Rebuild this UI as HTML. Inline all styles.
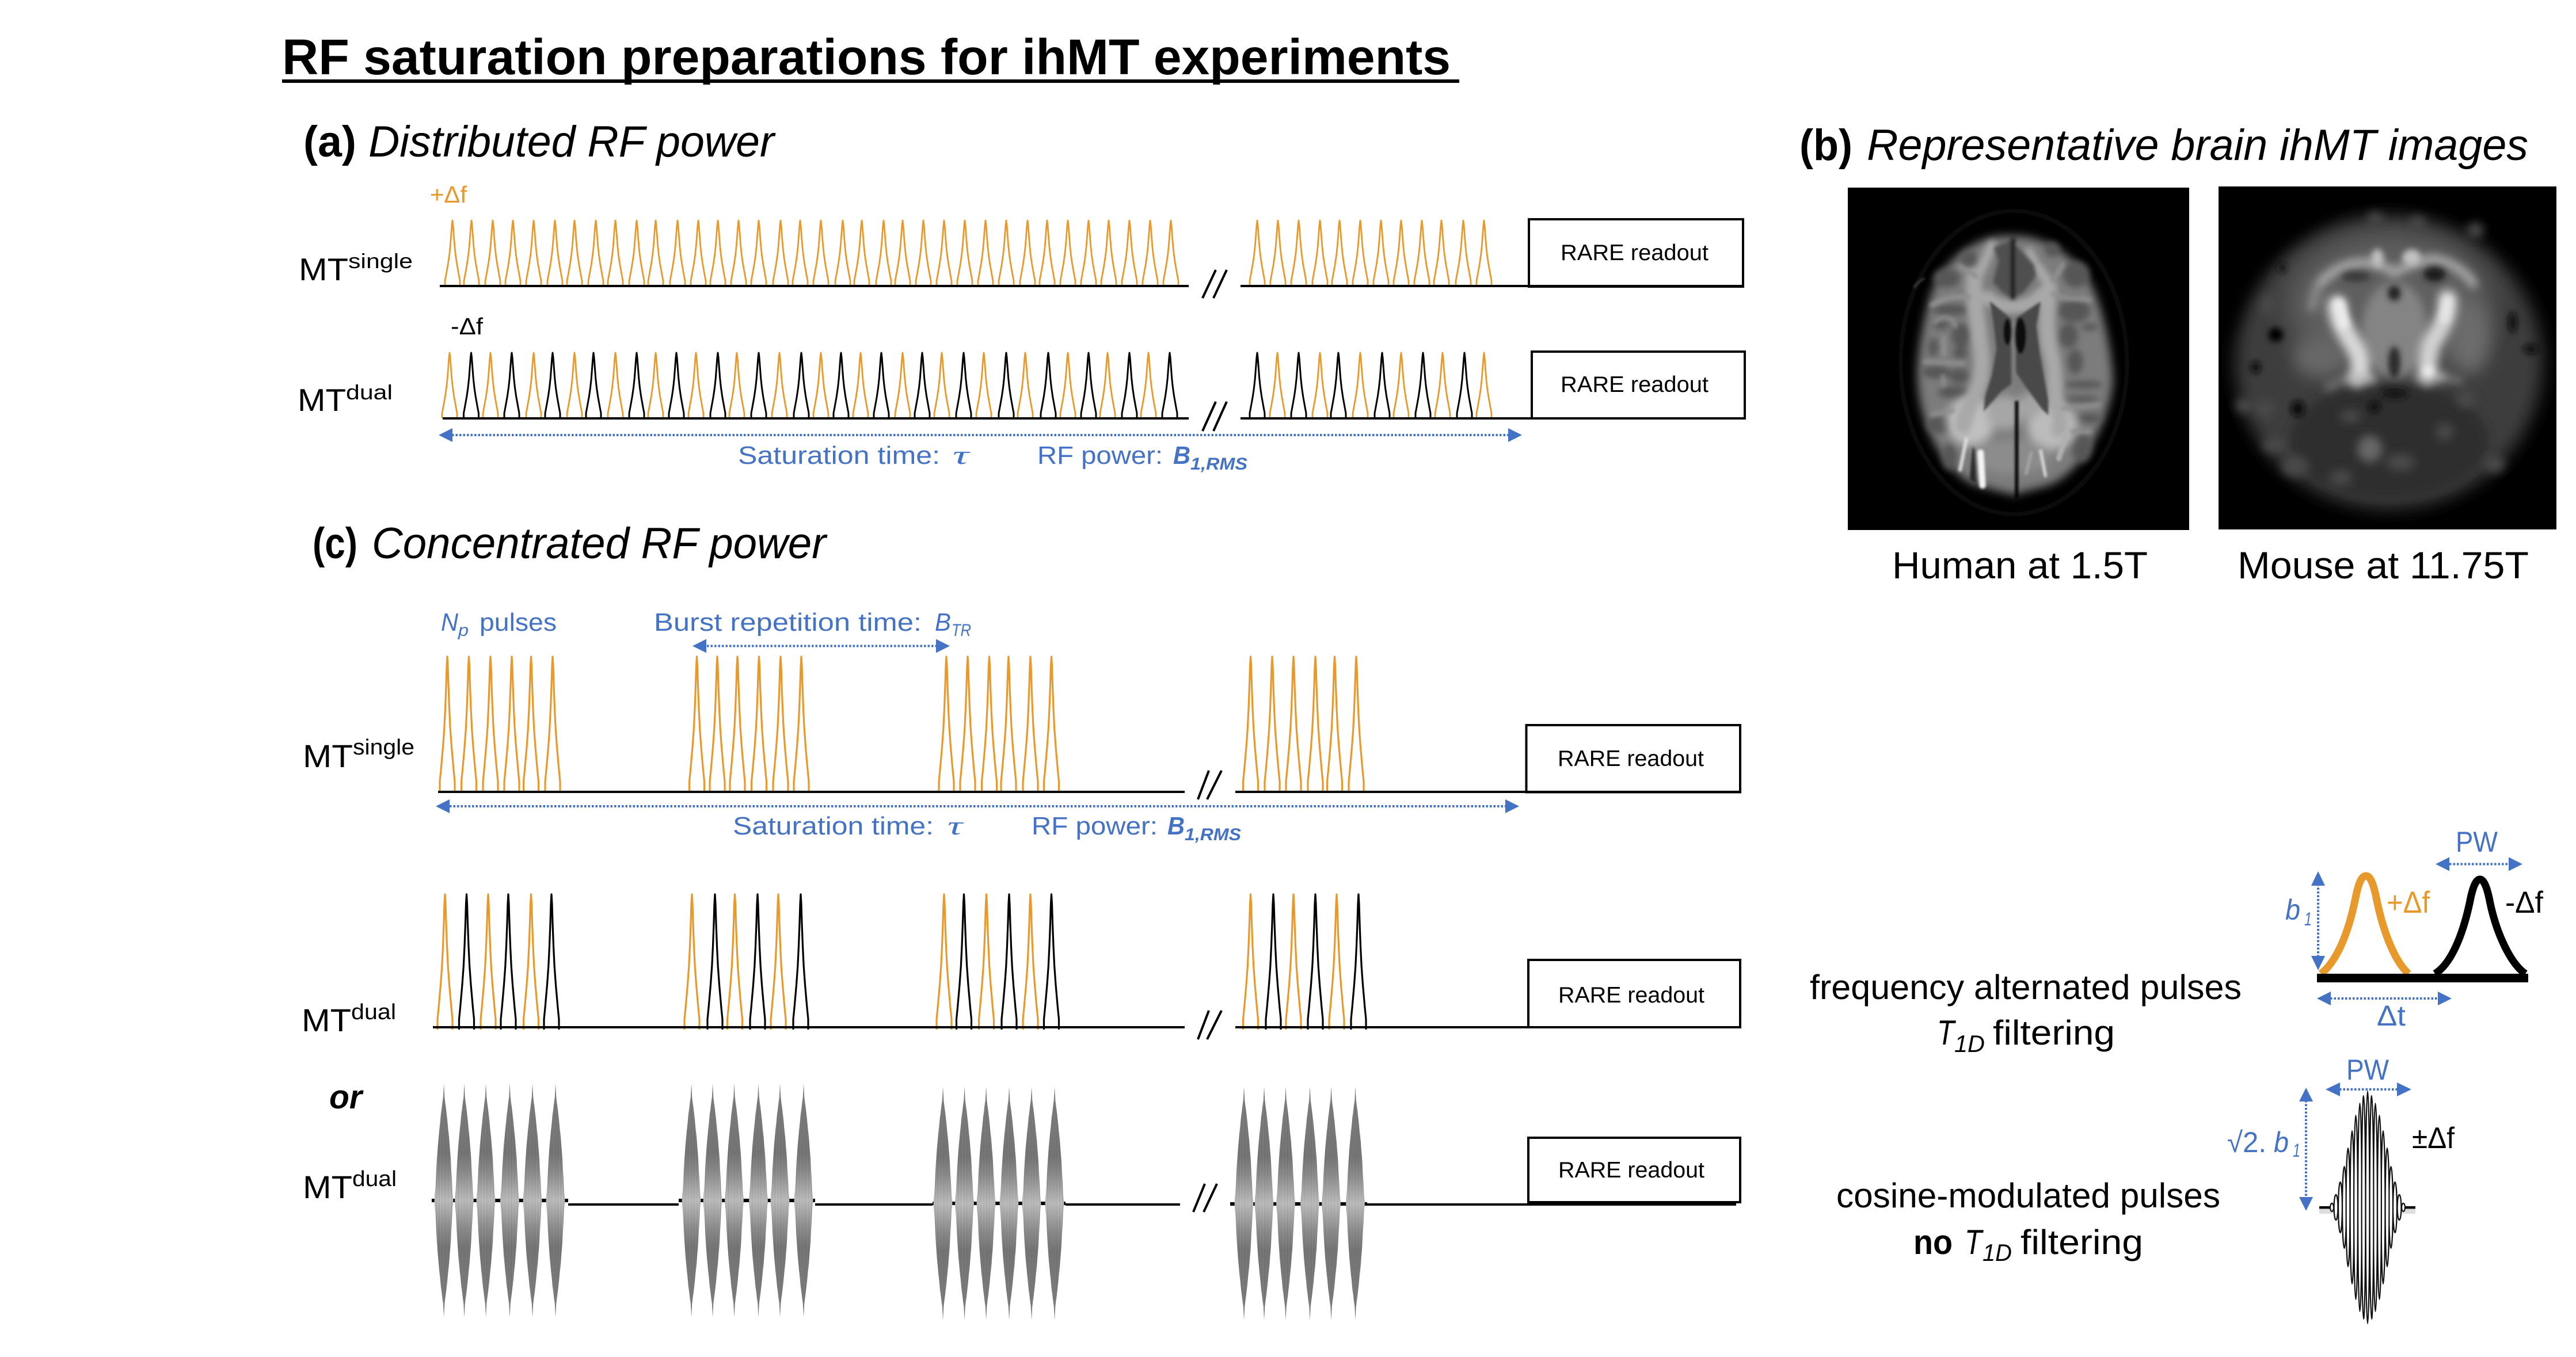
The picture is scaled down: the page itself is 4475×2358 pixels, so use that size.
<!DOCTYPE html>
<html><head><meta charset="utf-8"><title>RF saturation preparations for ihMT experiments</title>
<style>
html,body{margin:0;padding:0;background:#fff}
svg{display:block}
text{font-family:"Liberation Sans","DejaVu Sans",sans-serif;fill:#000}
.b{fill:#4472C4}
.o{fill:#E8992B}
.i{font-style:italic}
.bd{font-weight:bold}
</style></head><body>
<svg xmlns="http://www.w3.org/2000/svg" width="4475" height="2358" viewBox="0 0 4475 2358">
<defs>
<path id="p" d="M-13 0L-13-9L-11.3-18L-7.7-38L-5.4-54L-3.7-70L-2.2-90L-1-106L0-114L1-106L2.2-90L3.7-70L5.4-54L7.7-38L11.3-18L13-9L13 0"/>
<path id="q" d="M-13 0L-13-18L-11-38L-7.5-78L-5.2-110L-3.5-145L-2-185L-1-218L0-235L1-218L2-185L3.5-145L5.2-110L7.5-78L11-38L13-18L13 0"/>
<linearGradient id="g" x1="0" y1="0" x2="0" y2="1">
<stop offset="0" stop-color="#8a8a8a"/><stop offset=".3" stop-color="#808080"/><stop offset=".38" stop-color="#989898"/><stop offset=".5" stop-color="#cccccc"/><stop offset=".62" stop-color="#989898"/><stop offset=".7" stop-color="#808080"/><stop offset="1" stop-color="#8a8a8a"/>
</linearGradient>
<pattern id="st" width="2.6" height="10" patternUnits="userSpaceOnUse"><rect width="1" height="10" fill="#000" opacity=".25"/></pattern>
<polygon id="env" points="0,-203 1.2,-180 5,-150 9.5,-105 12,-72 13.5,-43 15,-17 16.5,0 15,17 13.5,43 12,72 9.5,105 5,150 1.2,180 0,203 -1.2,180 -5,150 -9.5,105 -12,72 -13.5,43 -15,17 -16.5,0 -15,-17 -13.5,-43 -12,-72 -9.5,-105 -5,-150 -1.2,-180"/>
<g id="c"><use href="#env" fill="url(#g)"/><use href="#env" fill="url(#st)"/></g>
<filter id="f5" filterUnits="userSpaceOnUse" x="-500" y="-500" width="3000" height="3000"><feGaussianBlur stdDeviation="6"/></filter>
<filter id="f9" filterUnits="userSpaceOnUse" x="-500" y="-500" width="3000" height="3000"><feGaussianBlur stdDeviation="10"/></filter>
<filter id="f14" filterUnits="userSpaceOnUse" x="-500" y="-500" width="3000" height="3000"><feGaussianBlur stdDeviation="16"/></filter>
<filter id="f22" filterUnits="userSpaceOnUse" x="-500" y="-500" width="3000" height="3000"><feGaussianBlur stdDeviation="24"/></filter>
<filter id="f45" filterUnits="userSpaceOnUse" x="-500" y="-500" width="3000" height="3000"><feGaussianBlur stdDeviation="45"/></filter>
<filter id="f70" filterUnits="userSpaceOnUse" x="-500" y="-500" width="3000" height="3000"><feGaussianBlur stdDeviation="70"/></filter>
<clipPath id="ch"><rect x="30" y="18" width="1779" height="1785"/></clipPath>
<clipPath id="cm"><rect x="12" y="12" width="1761" height="1788"/></clipPath>
</defs>
<rect width="4475" height="2358" fill="#fff"/>

<!-- Title -->
<text class="bd" x="490" y="129" font-size="87" textLength="2030" lengthAdjust="spacingAndGlyphs">RF saturation preparations for ihMT experiments</text>
<rect x="490" y="138" width="2045" height="6" fill="#000"/>

<!-- Headings -->
<text class="bd" x="527" y="272" font-size="76" textLength="92" lengthAdjust="spacingAndGlyphs">(a)</text>
<text class="i" x="640" y="272" font-size="76" textLength="705" lengthAdjust="spacingAndGlyphs">Distributed RF power</text>
<text class="bd" x="3126" y="278" font-size="76" textLength="92" lengthAdjust="spacingAndGlyphs">(b)</text>
<text class="i" x="3243" y="278" font-size="76" textLength="1149" lengthAdjust="spacingAndGlyphs">Representative brain ihMT images</text>
<text class="bd" x="543" y="970" font-size="76" textLength="78" lengthAdjust="spacingAndGlyphs">(c)</text>
<text class="i" x="646" y="970" font-size="76" textLength="789" lengthAdjust="spacingAndGlyphs">Concentrated RF power</text>

<!-- (a) row labels -->
<text class="o" x="747" y="352" font-size="41" textLength="64" lengthAdjust="spacingAndGlyphs">+Δf</text>
<text x="783" y="581" font-size="41" textLength="56" lengthAdjust="spacingAndGlyphs">-Δf</text>
<text x="519" y="487" font-size="55" textLength="86" lengthAdjust="spacingAndGlyphs">MT</text>
<text x="605" y="466" font-size="36" textLength="112" lengthAdjust="spacingAndGlyphs">single</text>
<text x="517" y="714" font-size="55" textLength="84" lengthAdjust="spacingAndGlyphs">MT</text>
<text x="601" y="694" font-size="36" textLength="81" lengthAdjust="spacingAndGlyphs">dual</text>

<!-- Row 1 pulses -->
<g fill="none" stroke="#E8992B" stroke-width="2.8" stroke-linejoin="round">
<g transform="translate(0 497)">
<use href="#p" x="786"/><use href="#p" x="819"/><use href="#p" x="856"/><use href="#p" x="891"/><use href="#p" x="927"/><use href="#p" x="964"/><use href="#p" x="998"/><use href="#p" x="1035"/><use href="#p" x="1069"/><use href="#p" x="1106"/><use href="#p" x="1139"/><use href="#p" x="1177"/><use href="#p" x="1213"/><use href="#p" x="1247"/><use href="#p" x="1283"/><use href="#p" x="1318"/><use href="#p" x="1356"/><use href="#p" x="1390"/><use href="#p" x="1426"/><use href="#p" x="1464"/><use href="#p" x="1497"/><use href="#p" x="1535"/><use href="#p" x="1568"/><use href="#p" x="1604"/><use href="#p" x="1640"/><use href="#p" x="1676"/><use href="#p" x="1712"/><use href="#p" x="1748"/><use href="#p" x="1785"/><use href="#p" x="1819"/><use href="#p" x="1855"/><use href="#p" x="1891"/><use href="#p" x="1926"/><use href="#p" x="1962"/><use href="#p" x="1998"/><use href="#p" x="2034"/>
<use href="#p" x="2184"/><use href="#p" x="2220"/><use href="#p" x="2256"/><use href="#p" x="2293"/><use href="#p" x="2327"/><use href="#p" x="2363"/><use href="#p" x="2399"/><use href="#p" x="2434"/><use href="#p" x="2470"/><use href="#p" x="2504"/><use href="#p" x="2542"/><use href="#p" x="2578"/>
</g>
<!-- Row 2 orange -->
<g transform="translate(0 727)">
<use href="#p" x="781"/><use href="#p" x="852"/><use href="#p" x="927"/><use href="#p" x="998"/><use href="#p" x="1069"/><use href="#p" x="1139"/><use href="#p" x="1209"/><use href="#p" x="1280"/><use href="#p" x="1354"/><use href="#p" x="1426"/><use href="#p" x="1495"/><use href="#p" x="1568"/><use href="#p" x="1636"/><use href="#p" x="1709"/><use href="#p" x="1781"/><use href="#p" x="1855"/><use href="#p" x="1924"/><use href="#p" x="1995"/>
<use href="#p" x="2219"/><use href="#p" x="2293"/><use href="#p" x="2363"/><use href="#p" x="2434"/><use href="#p" x="2506"/><use href="#p" x="2578"/>
</g>
<!-- Row 3 -->
<g transform="translate(0 1376)" stroke-width="3.2">
<use href="#q" x="777"/><use href="#q" x="814.5"/><use href="#q" x="852"/><use href="#q" x="889"/><use href="#q" x="922.5"/><use href="#q" x="960"/>
<use href="#q" x="1210.5"/><use href="#q" x="1246"/><use href="#q" x="1281"/><use href="#q" x="1318.5"/><use href="#q" x="1356"/><use href="#q" x="1392"/>
<use href="#q" x="1644"/><use href="#q" x="1681"/><use href="#q" x="1718.5"/><use href="#q" x="1752"/><use href="#q" x="1790"/><use href="#q" x="1826.5"/>
<use href="#q" x="2172.5"/><use href="#q" x="2210"/><use href="#q" x="2247"/><use href="#q" x="2285"/><use href="#q" x="2318.5"/><use href="#q" x="2356"/>
</g>
<!-- Row 4 orange -->
<g transform="translate(0 1789)" stroke-width="3.2">
<use href="#q" x="773"/><use href="#q" x="848"/><use href="#q" x="922.5"/>
<use href="#q" x="1202"/><use href="#q" x="1276.5"/><use href="#q" x="1352"/>
<use href="#q" x="1640"/><use href="#q" x="1713.5"/><use href="#q" x="1790"/>
<use href="#q" x="2172.5"/><use href="#q" x="2247"/><use href="#q" x="2322"/>
</g>
</g>
<g fill="none" stroke="#000" stroke-width="3" stroke-linejoin="round">
<g transform="translate(0 727)">
<use href="#p" x="818.5"/><use href="#p" x="889"/><use href="#p" x="960"/><use href="#p" x="1031"/><use href="#p" x="1106"/><use href="#p" x="1175"/><use href="#p" x="1247"/><use href="#p" x="1318"/><use href="#p" x="1392"/><use href="#p" x="1461"/><use href="#p" x="1531"/><use href="#p" x="1602"/><use href="#p" x="1674"/><use href="#p" x="1748"/><use href="#p" x="1821"/><use href="#p" x="1891"/><use href="#p" x="1962"/><use href="#p" x="2032"/>
<use href="#p" x="2184"/><use href="#p" x="2256"/><use href="#p" x="2325"/><use href="#p" x="2401"/><use href="#p" x="2472"/><use href="#p" x="2544"/>
</g>
<g transform="translate(0 1789)" stroke-width="3.2">
<use href="#q" x="810.5"/><use href="#q" x="883"/><use href="#q" x="958"/>
<use href="#q" x="1242"/><use href="#q" x="1316"/><use href="#q" x="1391"/>
<use href="#q" x="1674.5"/><use href="#q" x="1753"/><use href="#q" x="1826.5"/>
<use href="#q" x="2212"/><use href="#q" x="2285"/><use href="#q" x="2360"/>
</g>
</g>

<!-- Baselines -->
<g fill="#000">
<rect x="764" y="495" width="1301" height="4"/><rect x="2155" y="495" width="873" height="4"/>
<rect x="769" y="725" width="1296" height="4"/><rect x="2155" y="725" width="878" height="4"/>
<rect x="761" y="1374" width="1297" height="4"/><rect x="2146" y="1374" width="877" height="4"/>
<rect x="752" y="1783" width="1306" height="4"/><rect x="2146" y="1783" width="877" height="4"/>
<rect x="987" y="2091" width="192" height="4"/><rect x="1416" y="2091" width="204" height="4"/><rect x="1851" y="2091" width="199" height="4"/><rect x="2374" y="2091" width="642" height="4"/>
<rect x="750" y="2083" width="237" height="6"/><rect x="1179" y="2083" width="237" height="6"/><rect x="1620" y="2088" width="231" height="6"/><rect x="2137" y="2089" width="238" height="6"/>
</g>

<!-- Cos pulses row -->
<g transform="translate(0 2086)">
<use href="#c" x="771"/><use href="#c" x="806.5"/><use href="#c" x="844"/><use href="#c" x="885.5"/><use href="#c" x="925"/><use href="#c" x="965"/>
<use href="#c" x="1201"/><use href="#c" x="1238"/><use href="#c" x="1275.5"/><use href="#c" x="1317.5"/><use href="#c" x="1355"/><use href="#c" x="1396"/>
</g>
<g transform="translate(0 2091)">
<use href="#c" x="1638"/><use href="#c" x="1675.5"/><use href="#c" x="1713"/><use href="#c" x="1753"/><use href="#c" x="1792"/><use href="#c" x="1832"/>
<use href="#c" x="2161"/><use href="#c" x="2196"/><use href="#c" x="2233.5"/><use href="#c" x="2275.5"/><use href="#c" x="2312.5"/><use href="#c" x="2354.5"/>
</g>

<!-- Break marks -->
<g stroke="#000" stroke-width="4" fill="none">
<path d="M2089 518L2112 469M2108 518L2131 469"/>
<path d="M2089 749L2112 698M2108 749L2131 698"/>
<path d="M2081 1389L2100 1339M2097 1389L2122 1339"/>
<path d="M2081 1806L2100 1756M2097 1806L2122 1756"/>
<path d="M2073 2106L2093 2057M2091 2106L2114 2057"/>
</g>

<!-- RARE boxes -->
<g fill="none" stroke="#000" stroke-width="4">
<rect x="2656" y="381" width="372" height="117"/>
<rect x="2661" y="611" width="370" height="116"/>
<rect x="2651.5" y="1260" width="371.5" height="116.5"/>
<rect x="2655" y="1668" width="368" height="117"/>
<rect x="2655" y="1977" width="368" height="112"/>
</g>
<g font-size="39">
<text x="2711" y="452" textLength="257" lengthAdjust="spacingAndGlyphs">RARE readout</text>
<text x="2711" y="681" textLength="257" lengthAdjust="spacingAndGlyphs">RARE readout</text>
<text x="2706" y="1331" textLength="254" lengthAdjust="spacingAndGlyphs">RARE readout</text>
<text x="2707" y="1742" textLength="254" lengthAdjust="spacingAndGlyphs">RARE readout</text>
<text x="2707" y="2046" textLength="254" lengthAdjust="spacingAndGlyphs">RARE readout</text>
</g>

<!-- Blue arrows -->
<g stroke="#4472C4" stroke-width="4" stroke-dasharray="3.5 3" fill="none">
<path d="M785 756H2620"/>
<path d="M1228 1122.5H1626"/>
<path d="M781 1401H2615"/>
<path d="M4255 1501.5H4358"/>
<path d="M4027 1536V1664"/>
<path d="M4048 1735H4237"/>
<path d="M4064 1893H4165"/>
<path d="M4006 1912V2082"/>
</g>
<g fill="#4472C4">
<polygon points="762,756 786,744 786,768"/><polygon points="2644,756 2620,744 2620,768"/>
<polygon points="1203,1122.5 1227,1110.5 1227,1134.5"/><polygon points="1650,1122.5 1626,1110.5 1626,1134.5"/>
<polygon points="757,1401 781,1389 781,1413"/><polygon points="2639,1401 2615,1389 2615,1413"/>
<polygon points="4231,1501.5 4255,1489.5 4255,1513.5"/><polygon points="4382,1501.5 4358,1489.5 4358,1513.5"/>
<polygon points="4027,1514 4015,1539 4039,1539"/><polygon points="4027,1686 4015,1661 4039,1661"/>
<polygon points="4025,1735 4049,1723 4049,1747"/><polygon points="4259,1735 4235,1723 4235,1747"/>
<polygon points="4040,1893 4065,1881 4065,1905"/><polygon points="4189,1893 4164,1881 4164,1905"/>
<polygon points="4006,1890 3994,1914 4018,1914"/><polygon points="4006,2104 3994,2080 4018,2080"/>
</g>

<!-- Blue labels -->
<text class="b" x="1282" y="806" font-size="44" textLength="351" lengthAdjust="spacingAndGlyphs">Saturation time:</text>
<text class="b" x="1655" y="806" font-size="46" font-style="italic" style="font-family:'Liberation Serif',serif" textLength="28" lengthAdjust="spacingAndGlyphs">τ</text>
<text class="b" x="1802" y="806" font-size="44" textLength="218" lengthAdjust="spacingAndGlyphs">RF power:</text>
<text class="b i bd" x="2038" y="806" font-size="44" textLength="30" lengthAdjust="spacingAndGlyphs">B</text>
<text class="b i bd" x="2068" y="816" font-size="30" textLength="99" lengthAdjust="spacingAndGlyphs">1,RMS</text>

<text class="b" x="1273" y="1450" font-size="44" textLength="349" lengthAdjust="spacingAndGlyphs">Saturation time:</text>
<text class="b" x="1646" y="1450" font-size="46" font-style="italic" style="font-family:'Liberation Serif',serif" textLength="26" lengthAdjust="spacingAndGlyphs">τ</text>
<text class="b" x="1792" y="1450" font-size="44" textLength="219" lengthAdjust="spacingAndGlyphs">RF power:</text>
<text class="b i bd" x="2028" y="1450" font-size="44" textLength="30" lengthAdjust="spacingAndGlyphs">B</text>
<text class="b i bd" x="2058" y="1460" font-size="30" textLength="98" lengthAdjust="spacingAndGlyphs">1,RMS</text>

<text class="b i" x="766" y="1096" font-size="44" textLength="30" lengthAdjust="spacingAndGlyphs">N</text>
<text class="b i" x="796" y="1105" font-size="30" textLength="18" lengthAdjust="spacingAndGlyphs">p</text>
<text class="b" x="833" y="1096" font-size="44" textLength="134" lengthAdjust="spacingAndGlyphs">pulses</text>
<text class="b" x="1136" y="1096" font-size="44" textLength="465" lengthAdjust="spacingAndGlyphs">Burst repetition time:</text>
<text class="b i" x="1624" y="1096" font-size="44" textLength="28" lengthAdjust="spacingAndGlyphs">B</text>
<text class="b i" x="1653" y="1105" font-size="30" textLength="34" lengthAdjust="spacingAndGlyphs">TR</text>

<!-- (c) labels -->
<text x="526" y="1333" font-size="56" textLength="87" lengthAdjust="spacingAndGlyphs">MT</text>
<text x="613" y="1311" font-size="38" textLength="107" lengthAdjust="spacingAndGlyphs">single</text>
<text x="524" y="1792" font-size="56" textLength="86" lengthAdjust="spacingAndGlyphs">MT</text>
<text x="610" y="1771" font-size="38" textLength="78" lengthAdjust="spacingAndGlyphs">dual</text>
<text class="i bd" x="572" y="1926" font-size="58" textLength="57" lengthAdjust="spacingAndGlyphs">or</text>
<text x="526" y="2082" font-size="56" textLength="86" lengthAdjust="spacingAndGlyphs">MT</text>
<text x="612" y="2061" font-size="38" textLength="77" lengthAdjust="spacingAndGlyphs">dual</text>

<!-- Human brain -->
<g transform="translate(3200 320) scale(.33333)">
<rect x="30" y="18" width="1779" height="1785" fill="#000"/>
<g clip-path="url(#ch)">
<g filter="url(#f14)">
<ellipse cx="895" cy="930" rx="590" ry="790" fill="none" stroke="#0e0e0e" stroke-width="26"/>
</g>
<path d="M375 540C385 520 405 505 430 490" fill="none" stroke="#555" stroke-width="8" filter="url(#f5)"/>
<path filter="url(#f22)" d="M890 270C700 250 490 410 445 640C405 800 385 950 395 1050C410 1250 520 1500 700 1570L890 1620L1080 1570C1250 1500 1385 1250 1410 1050C1420 950 1370 700 1330 600C1280 420 1080 260 890 270Z" fill="#7c7c7c"/>
<g filter="url(#f14)" fill="#565656">
<ellipse cx="545" cy="490" rx="70" ry="50"/><ellipse cx="660" cy="390" rx="45" ry="45"/>
<ellipse cx="1220" cy="470" rx="70" ry="70"/><ellipse cx="1095" cy="340" rx="40" ry="40"/>
<ellipse cx="565" cy="655" rx="95" ry="30"/><ellipse cx="515" cy="735" rx="45" ry="22"/><ellipse cx="620" cy="790" rx="50" ry="65"/>
<ellipse cx="615" cy="880" rx="40" ry="30"/><ellipse cx="475" cy="850" rx="26" ry="50"/>
<ellipse cx="490" cy="980" rx="75" ry="34"/><ellipse cx="610" cy="1000" rx="50" ry="40"/><ellipse cx="580" cy="1085" rx="80" ry="32"/>
<ellipse cx="510" cy="1255" rx="70" ry="45"/>
<ellipse cx="1210" cy="660" rx="85" ry="60"/><ellipse cx="1180" cy="790" rx="50" ry="65"/><ellipse cx="1215" cy="925" rx="40" ry="65"/>
<ellipse cx="1290" cy="745" rx="45" ry="18"/><ellipse cx="1260" cy="1045" rx="100" ry="20"/><ellipse cx="1250" cy="1120" rx="90" ry="16"/>
<ellipse cx="1290" cy="1220" rx="65" ry="26"/><ellipse cx="1250" cy="1370" rx="55" ry="80"/>
<ellipse cx="560" cy="1420" rx="40" ry="70"/>
</g>
<g filter="url(#f22)">
<ellipse cx="670" cy="1235" rx="125" ry="130" fill="#c0c0c0"/>
<ellipse cx="1095" cy="1260" rx="130" ry="125" fill="#bcbcbc"/>
<ellipse cx="850" cy="1190" rx="100" ry="90" fill="#a6a6a6"/>
<ellipse cx="985" cy="1150" rx="60" ry="70" fill="#a4a4a4"/>
<ellipse cx="890" cy="1420" rx="200" ry="90" fill="#8c8c8c"/>
</g>
<g fill="none" stroke-linecap="round" filter="url(#f14)">
<g stroke="#a8a8a8">
<path d="M690 480C680 600 710 700 715 800C735 900 735 1000 700 1080C670 1150 640 1200 630 1260" stroke-width="85"/>
<path d="M1080 540C1070 650 1060 750 1080 850C1110 950 1110 1050 1110 1130C1130 1200 1150 1240 1130 1280" stroke-width="82"/>
<path d="M760 590C800 630 850 640 890 640C950 640 1000 620 1040 570" stroke-width="70"/>
<path d="M700 500L780 320" stroke-width="52"/>
<path d="M1040 480L975 350" stroke-width="44"/>
<path d="M1080 520L1025 440" stroke-width="55"/>
</g>
</g>
<g fill="none" stroke-linecap="round" filter="url(#f9)">
<g stroke="#909090">
<path d="M700 480L615 430" stroke-width="26"/>
<path d="M1100 500L1150 420" stroke-width="26"/>
<path d="M660 590C580 580 520 600 470 630" stroke-width="28"/>
<path d="M1100 570C1150 610 1250 590 1290 605" stroke-width="24"/>
<path d="M480 725C515 680 590 685 590 745" stroke-width="16"/>
<path d="M530 800L530 890" stroke-width="22"/>
<path d="M430 925L630 935" stroke-width="20"/>
<path d="M525 1000L530 1050" stroke-width="18"/>
<path d="M1150 1170L1340 1150" stroke-width="20"/>
<path d="M1200 1290L1290 1290" stroke-width="26"/>
<path d="M470 1200L580 1180" stroke-width="22"/>
</g>
</g>
<g fill="none" stroke-linecap="round" filter="url(#f5)">
<path d="M648 1330L615 1490" stroke="#dedede" stroke-width="18"/>
<path d="M722 1400L732 1570" stroke="#f4f4f4" stroke-width="34"/>
<path d="M785 1370L815 1470" stroke="#8c8c8c" stroke-width="14"/>
<path d="M1035 1390L1060 1520" stroke="#dcdcdc" stroke-width="16"/>
<path d="M985 1400L960 1510" stroke="#a8a8a8" stroke-width="14"/>
<path d="M1165 1310L1130 1430" stroke="#b0b0b0" stroke-width="28"/>
</g>
<g filter="url(#f5)">
<polygon points="680,1370 665,1540 700,1560 690,1380" fill="#2a2a2a"/>
<polygon points="770,610 885,705 882,800 885,1040 830,1080 738,1185 745,1110 780,1000 805,860 790,730" fill="#484848"/>
<polygon points="1035,612 905,700 905,980 960,1060 1040,1170 1075,1205 1075,1130 1030,880 1012,740" fill="#484848"/>
<ellipse cx="862" cy="770" rx="22" ry="70" fill="#0a0a0a"/>
<ellipse cx="930" cy="790" rx="30" ry="95" fill="#0c0c0c"/>
</g>
<g filter="url(#f9)">
<polygon points="790,330 880,290 1000,420 1010,480 950,560 890,600 830,560 785,510 815,400" fill="#505050"/>
<path d="M890 280V600" fill="none" stroke="#111" stroke-width="22"/>
<path d="M893 700V1110" fill="none" stroke="#808080" stroke-width="9"/>
</g>
<path filter="url(#f5)" d="M910 1130V1640" fill="none" stroke="#050505" stroke-width="18"/>
</g>
</g>

<!-- Mouse brain -->
<g transform="translate(3850 320) scale(.33333)">
<rect x="12" y="12" width="1761" height="1788" fill="#000"/>
<g clip-path="url(#cm)">
<ellipse cx="900" cy="930" rx="800" ry="760" fill="#3c3c3c" filter="url(#f45)"/>
<ellipse cx="900" cy="620" rx="530" ry="370" fill="#5e5e5e" filter="url(#f70)"/>
<ellipse cx="540" cy="900" rx="140" ry="110" fill="#686868" filter="url(#f45)"/>
<ellipse cx="1320" cy="800" rx="110" ry="190" fill="#6c6c6c" filter="url(#f45)"/>
<ellipse cx="900" cy="1340" rx="520" ry="300" fill="#2e2e2e" filter="url(#f22)"/>
<g filter="url(#f22)" fill="#494949">
<ellipse cx="800" cy="1380" rx="65" ry="70" fill="#666"/>
<ellipse cx="145" cy="1155" rx="45" ry="40"/><ellipse cx="255" cy="1170" rx="50" ry="45"/>
<ellipse cx="410" cy="1470" rx="70" ry="55"/><ellipse cx="700" cy="1210" rx="55" ry="34"/>
<ellipse cx="960" cy="1450" rx="75" ry="45"/><ellipse cx="1190" cy="1290" rx="45" ry="45"/>
<ellipse cx="1300" cy="1120" rx="50" ry="45"/><ellipse cx="270" cy="630" rx="35" ry="55"/>
<ellipse cx="650" cy="1530" rx="60" ry="40"/><ellipse cx="1450" cy="1460" rx="55" ry="45"/>
<ellipse cx="300" cy="1360" rx="60" ry="40"/><ellipse cx="1350" cy="240" rx="45" ry="40"/><ellipse cx="1050" cy="200" rx="40" ry="35"/><ellipse cx="830" cy="180" rx="40" ry="35"/>
</g>
<ellipse cx="930" cy="760" rx="170" ry="250" fill="#848484" filter="url(#f22)"/>
<g fill="none" stroke-linecap="round" filter="url(#f22)">
<path d="M530 530C590 460 650 420 750 410C850 400 880 440 930 460C990 430 1040 400 1130 390C1230 400 1310 470 1340 520" stroke="#b0b0b0" stroke-width="44"/>
<path d="M525 540L500 640" stroke="#8a8a8a" stroke-width="50"/>
<path d="M630 630C630 710 680 780 730 860C760 920 755 975 735 1010" stroke="#d8d8d8" stroke-width="100"/>
<path d="M1205 600C1215 680 1160 770 1120 830C1100 900 1100 960 1100 1000" stroke="#d2d2d2" stroke-width="100"/>
<path d="M690 1015H810M1060 1005H1180" stroke="#b8b8b8" stroke-width="50"/>
<path d="M580 1060L640 1030M1270 1025L1200 1010" stroke="#808080" stroke-width="32"/>
</g>
<g filter="url(#f14)">
<path d="M640 625L665 730" fill="none" stroke="#ececec" stroke-width="55" stroke-linecap="round"/>
<path d="M1205 610L1190 700" fill="none" stroke="#e6e6e6" stroke-width="50" stroke-linecap="round"/>
<ellipse cx="1105" cy="975" rx="28" ry="30" fill="#ededed"/>
<ellipse cx="840" cy="385" rx="32" ry="48" fill="#c0c0c0"/>
<ellipse cx="1018" cy="382" rx="48" ry="42" fill="#c2c2c2"/>
<ellipse cx="728" cy="482" rx="75" ry="28" fill="#3a3a3a"/>
<ellipse cx="1138" cy="470" rx="58" ry="38" fill="#1f1f1f"/>
<ellipse cx="928" cy="568" rx="34" ry="40" fill="#202020"/>
<ellipse cx="928" cy="930" rx="32" ry="85" fill="#2c2c2c"/>
<ellipse cx="930" cy="1090" rx="70" ry="28" fill="#191919"/>
<ellipse cx="310" cy="785" rx="38" ry="38" fill="#000"/>
<ellipse cx="205" cy="955" rx="26" ry="32" fill="#080808"/>
<ellipse cx="425" cy="1170" rx="36" ry="42" fill="#080808"/>
<ellipse cx="825" cy="1160" rx="28" ry="30" fill="#0d0d0d"/>
<ellipse cx="345" cy="435" rx="22" ry="24" fill="#141414"/>
<ellipse cx="1545" cy="720" rx="22" ry="55" fill="#0c0c0c"/>
<ellipse cx="1640" cy="860" rx="38" ry="24" fill="#0c0c0c"/>
</g>
<polygon points="-100,-100 800,-100 520,170 320,300 150,520 60,750 -100,900" fill="#000" filter="url(#f45)"/>
<polygon points="1800,-100 1300,-100 1550,250 1800,500" fill="#000" filter="url(#f45)"/>
<polygon points="-100,1300 120,1400 300,1650 500,1900 -100,1900" fill="#000" filter="url(#f45)"/>
</g>
</g>

<text x="3287" y="1005" font-size="66" textLength="444" lengthAdjust="spacingAndGlyphs">Human at 1.5T</text>
<text x="3887" y="1005" font-size="66" textLength="506" lengthAdjust="spacingAndGlyphs">Mouse at 11.75T</text>

<!-- Legend text -->
<text x="3144" y="1736" font-size="60" textLength="750" lengthAdjust="spacingAndGlyphs">frequency alternated pulses</text>
<text class="i" x="3365" y="1815" font-size="60" textLength="30" lengthAdjust="spacingAndGlyphs">T</text>
<text class="i" x="3395" y="1828" font-size="42" textLength="53" lengthAdjust="spacingAndGlyphs">1D</text>
<text x="3462" y="1815" font-size="60" textLength="212" lengthAdjust="spacingAndGlyphs">filtering</text>
<text x="3190" y="2098" font-size="60" textLength="667" lengthAdjust="spacingAndGlyphs">cosine-modulated pulses</text>
<text class="bd" x="3324" y="2179" font-size="60" textLength="68" lengthAdjust="spacingAndGlyphs">no</text>
<text class="i" x="3413" y="2179" font-size="60" textLength="30" lengthAdjust="spacingAndGlyphs">T</text>
<text class="i" x="3444" y="2191" font-size="42" textLength="51" lengthAdjust="spacingAndGlyphs">1D</text>
<text x="3510" y="2179" font-size="60" textLength="213" lengthAdjust="spacingAndGlyphs">filtering</text>

<!-- Legend: frequency alternated pulse -->
<path d="M4032 1692C4060 1670 4080 1620 4092 1560C4098 1530 4104 1522 4110 1522C4116 1522 4122 1530 4128 1560C4140 1620 4160 1670 4184 1692" fill="none" stroke="#E8992B" stroke-width="13"/>
<path d="M4230 1692C4258 1675 4278 1625 4290 1570C4296 1538 4302 1528 4308 1528C4314 1528 4320 1538 4326 1570C4338 1625 4362 1675 4387 1692" fill="none" stroke="#000" stroke-width="13"/>
<rect x="4025" y="1692" width="367" height="15" fill="#000"/>
<text class="o" x="4146" y="1586" font-size="53" textLength="75" lengthAdjust="spacingAndGlyphs">+Δf</text>
<text x="4352" y="1586" font-size="53" textLength="66" lengthAdjust="spacingAndGlyphs">-Δf</text>
<text class="b" x="4266" y="1480" font-size="50" textLength="73" lengthAdjust="spacingAndGlyphs">PW</text>
<text class="b i" x="3970" y="1598" font-size="50" textLength="26" lengthAdjust="spacingAndGlyphs">b</text>
<text class="b i" x="4003" y="1608" font-size="32" textLength="13" lengthAdjust="spacingAndGlyphs">1</text>
<text class="b" x="4129" y="1782" font-size="50" textLength="50" lengthAdjust="spacingAndGlyphs">Δt</text>

<!-- Legend: cosine-modulated pulse -->
<rect x="4029" y="2096" width="167" height="4.5" fill="#000"/>
<rect x="4029" y="2101" width="28" height="8" fill="#ddd"/><rect x="4168" y="2101" width="28" height="8" fill="#ddd"/>
<g fill="#fff" stroke="#111" stroke-width="2.2" transform="translate(0 2098)">
<ellipse cx="4051" cy="0" rx="3" ry="7"/><ellipse cx="4175" cy="0" rx="3" ry="7"/>
<ellipse cx="4058" cy="0" rx="3.4" ry="22"/><ellipse cx="4168" cy="0" rx="3.4" ry="22"/>
<ellipse cx="4065.5" cy="0" rx="3.4" ry="44"/><ellipse cx="4160.5" cy="0" rx="3.4" ry="44"/>
<ellipse cx="4072.5" cy="0" rx="3.4" ry="71"/><ellipse cx="4153.5" cy="0" rx="3.4" ry="71"/>
<ellipse cx="4079" cy="0" rx="3.4" ry="103"/><ellipse cx="4147" cy="0" rx="3.4" ry="103"/>
<ellipse cx="4086" cy="0" rx="3.4" ry="133"/><ellipse cx="4140" cy="0" rx="3.4" ry="133"/>
<ellipse cx="4092.5" cy="0" rx="3.4" ry="160"/><ellipse cx="4133.5" cy="0" rx="3.4" ry="160"/>
<ellipse cx="4099.5" cy="0" rx="3.4" ry="181"/><ellipse cx="4126.5" cy="0" rx="3.4" ry="181"/>
<ellipse cx="4106" cy="0" rx="3.4" ry="194"/><ellipse cx="4120" cy="0" rx="3.4" ry="194"/>
<ellipse cx="4113" cy="0" rx="3.4" ry="202"/>
</g>
<text x="4190" y="1995" font-size="52" textLength="74" lengthAdjust="spacingAndGlyphs">±Δf</text>
<text class="b" x="4076" y="1876" font-size="50" textLength="74" lengthAdjust="spacingAndGlyphs">PW</text>
<text class="b" x="3869" y="2002" font-size="50" textLength="68" lengthAdjust="spacingAndGlyphs">√2.</text>
<text class="b i" x="3950" y="2002" font-size="50" textLength="26" lengthAdjust="spacingAndGlyphs">b</text>
<text class="b i" x="3983" y="2010" font-size="32" textLength="13" lengthAdjust="spacingAndGlyphs">1</text>
</svg>
</body></html>
